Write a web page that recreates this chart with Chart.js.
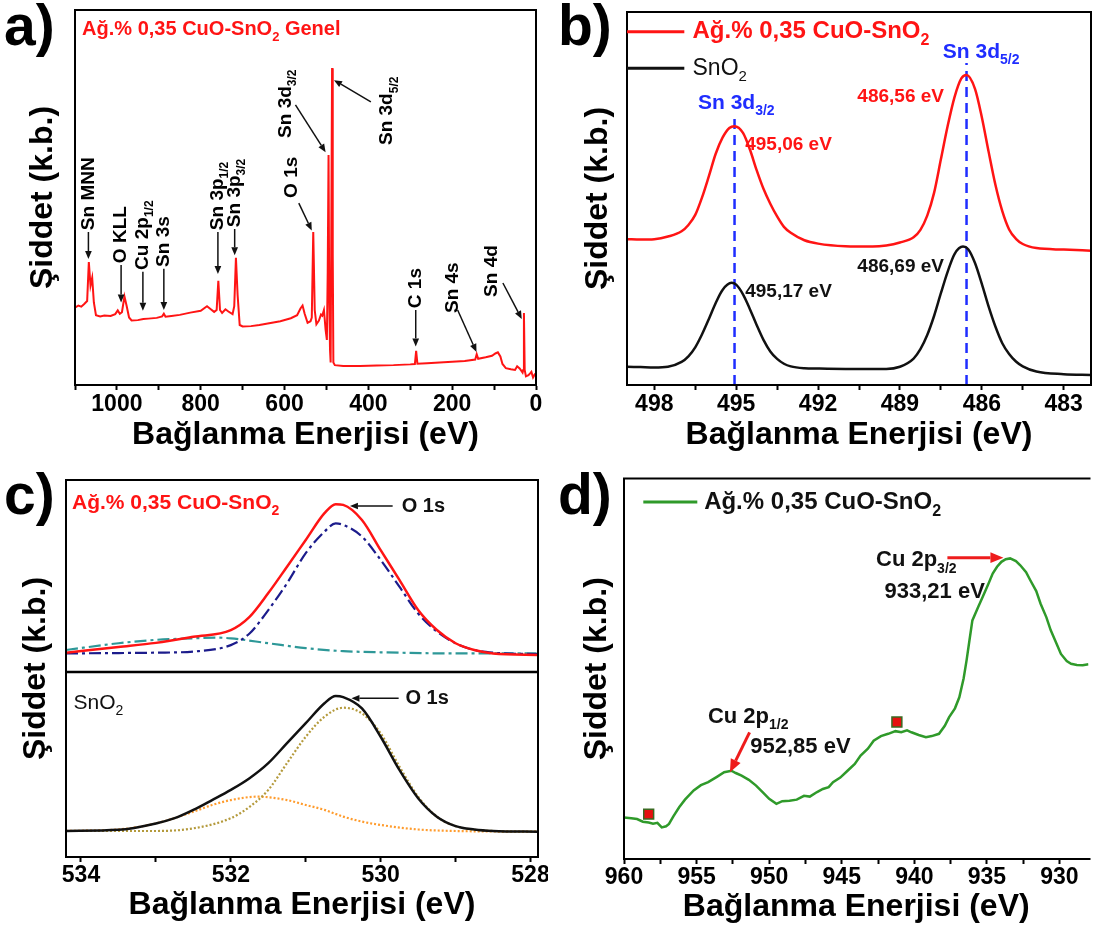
<!DOCTYPE html>
<html>
<head>
<meta charset="utf-8">
<script src="https://cdn.jsdelivr.net/npm/chart.js@4.4.1/dist/chart.umd.min.js"></script>
<style>
  body { margin: 0; background: #fff; width: 1097px; height: 943px; position: relative; overflow: hidden; }
  canvas { position: absolute; }
  .tag { position: absolute; font: bold 57px "Liberation Sans", Arial, sans-serif; line-height: 1; color: #000; }
</style>
</head>
<body>
<canvas id="chA" width="548" height="465" style="left:0;top:0"></canvas>
<canvas id="chB" width="547" height="465" style="left:550px;top:0"></canvas>
<canvas id="chC" width="548" height="473" style="left:0;top:470px"></canvas>
<canvas id="chD" width="547" height="473" style="left:550px;top:470px"></canvas>
<div class="tag" style="left:4px;top:-3px">a)</div>
<div class="tag" style="left:558px;top:-3px">b)</div>
<div class="tag" style="left:4px;top:466px">c)</div>
<div class="tag" style="left:558px;top:466px">d)</div>

<script>
/* ============================================================
   XPS panels a-d, [eV, intensity]
============================================================ */

const FONT = '"Liberation Sans", Arial, Helvetica, sans-serif';

// ---- a) survey spectrum
const SURVEY = [
  [1100, 20.6], [1092, 21.2], [1085, 20.9], [1078, 21.6], [1071, 22.4], [1067, 32.8], [1063, 26.5],
  [1059, 28.6], [1055, 22.0], [1050, 18.6], [1040, 18.3], [1030, 18.5], [1015, 18.4], [1004, 18.9],
  [998, 19.9], [993, 19.0], [988, 19.4], [982, 23.6], [977, 21.2], [971, 18.0], [965, 17.2],
  [950, 17.3], [937, 17.6], [925, 17.7], [905, 17.9], [892, 18.3], [888, 19.0], [884, 18.2],
  [870, 18.4], [850, 18.7], [825, 19.3], [800, 19.8], [785, 21.0], [776, 20.2], [768, 19.5],
  [762, 20.0], [758, 27.8], [754, 20.0], [749, 19.2], [741, 20.2], [734, 19.6], [724, 18.9],
  [720, 21.0], [716, 33.9], [712, 24.0], [707, 16.0], [700, 15.6], [680, 15.7], [660, 16.0],
  [640, 16.4], [610, 17.0], [585, 17.8], [570, 18.6], [562, 20.4], [557, 21.2], [552, 19.0],
  [545, 16.6], [538, 17.0], [535, 18.0], [531.5, 40.8], [528, 20.0], [524, 16.2], [518, 17.2],
  [513, 18.8], [510, 18.5], [506, 20.0], [502, 14.7], [499, 12.0], [497, 30.0], [495, 61.3],
  [493.5, 25.0], [491.5, 9.5], [490, 6.0], [488.5, 40.0], [486.6, 84.5], [485, 35.0], [483.5, 6.0],
  [480, 5.3], [460, 5.1], [420, 5.1], [380, 5.2], [340, 5.3], [300, 5.5], [289, 5.6], [286, 9.1],
  [283, 5.7], [260, 5.8], [230, 6.0], [200, 6.2], [170, 6.4], [145, 6.8], [141.5, 8.2], [138, 7.0],
  [120, 7.4], [105, 7.8], [97, 8.4], [91, 8.7], [85, 7.6], [80, 5.6], [72, 4.5], [60, 4.2],
  [50, 4.0], [45, 5.0], [39, 4.4], [32, 3.3], [30.5, 4.0], [28.8, 19.2], [27, 4.0], [24, 2.3],
  [18, 2.6], [14, 3.1], [11, 3.5], [7, 2.0], [3, 2.8], [0, 2.6]
];
const A_MAJOR = [0, 200, 400, 600, 800, 1000];
const A_MINOR = [100, 300, 500, 700, 900, 1100];
// label, energy, intensity at the foot of the upright text
const A_PEAKS = [
  ['Sn MNN', 1068, 41.3], ['O KLL', 990, 32.5], ['Cu 2p_{1/2}', 938, 30.7], ['Sn 3s', 888, 31.5],
  ['Sn 3p_{1/2}', 759, 41.3], ['Sn 3p_{3/2}', 719, 42.1], ['O 1s', 583, 49.9],
  ['Sn 3d_{3/2}', 598, 65.9], ['Sn 3d_{5/2}', 355, 64.0], ['C 1s', 287, 20.5],
  ['Sn 4s', 199, 19.2], ['Sn 4d', 106, 23.5]
];
const A_ARROWS = [
  [1068, 40.8, 1068, 33.6], [990, 32.0, 990, 22.0], [938, 30.2, 938, 19.8], [888, 31.0, 888, 20.0],
  [759, 40.8, 759, 29.6], [719, 41.6, 719, 34.6], [566, 48.5, 535, 41.2], [574, 74.7, 502, 62.1],
  [394, 75.5, 482, 81.3], [287, 20.0, 287, 10.3], [187, 20.0, 142, 8.8], [79, 27.2, 34, 17.6]
];

// ---- b) Sn 3d
const B_SAMPLE = [
  [499.0, 39.1], [498.5, 39.0], [498.0, 39.1], [497.5, 39.8], [497.0, 41.2], [496.75, 42.9],
  [496.5, 45.6], [496.25, 50.3], [496.0, 56.0], [495.75, 62.0], [495.5, 66.3], [495.25, 68.9],
  [495.06, 69.4], [494.75, 67.6], [494.5, 63.2], [494.25, 57.6], [494.0, 52.6], [493.75, 48.6],
  [493.5, 45.2], [493.25, 42.4], [493.0, 40.8], [492.5, 38.8], [492.0, 37.9], [491.0, 37.2],
  [490.0, 37.1], [489.5, 37.4], [489.0, 38.2], [488.5, 39.6], [488.25, 41.6], [488.0, 45.4],
  [487.75, 51.5], [487.5, 60.5], [487.25, 69.5], [487.0, 77.2], [486.75, 82.2], [486.56, 83.1],
  [486.25, 79.4], [486.0, 71.8], [485.75, 62.5], [485.5, 53.6], [485.25, 46.6], [485.0, 41.7],
  [484.75, 39.2], [484.5, 37.8], [484.0, 36.7], [483.0, 36.3], [482.0, 36.0]
];
const B_SNO2 = [
  [499.0, 4.9], [498.5, 4.8], [498.0, 4.7], [497.5, 4.9], [497.0, 6.2], [496.75, 7.7],
  [496.5, 10.1], [496.25, 13.6], [496.0, 17.7], [495.75, 22.0], [495.5, 25.5], [495.17, 27.4],
  [495.0, 26.9], [494.75, 24.3], [494.5, 20.4], [494.25, 16.1], [494.0, 12.1], [493.75, 9.0],
  [493.5, 7.0], [493.25, 5.7], [493.0, 5.0], [492.5, 4.5], [492.0, 4.4], [491.0, 4.3],
  [490.0, 4.3], [489.5, 4.3], [489.0, 4.9], [488.5, 7.1], [488.25, 9.6], [488.0, 13.4],
  [487.75, 18.5], [487.5, 24.6], [487.25, 30.4], [487.0, 35.1], [486.69, 37.1], [486.5, 36.4],
  [486.25, 32.7], [486.0, 27.1], [485.75, 21.0], [485.5, 15.6], [485.25, 11.2], [485.0, 8.3],
  [484.75, 6.3], [484.5, 5.0], [484.0, 3.6], [483.0, 2.9], [482.0, 2.7]
];
const B_CENTRES = [[495.06, 72.4], [486.56, 86.3]];   // dashed markers: energy, top
const B_MAJOR = [483, 486, 489, 492, 495, 498];
const B_MINOR = [484.5, 487.5, 490.5, 493.5, 496.5];

// ---- c) O 1s, fitted components (upper block: CuO-SnO2, lower block: SnO2)
const C_SAMPLE = [
  [534.2, 54.2], [533.5, 55.7], [533.0, 56.8], [532.5, 58.4], [532.0, 60.2], [531.75, 63.7],
  [531.5, 70.0], [531.25, 77.0], [531.0, 84.1], [530.75, 91.2], [530.6, 93.6], [530.5, 93.4],
  [530.25, 89.4], [530.0, 81.4], [529.75, 73.5], [529.5, 65.5], [529.25, 60.2], [529.0, 56.7],
  [528.75, 54.9], [528.5, 54.0], [527.88, 53.6]
];
const C_SAMPLE_LATTICE = [
  [534.2, 54.0], [533.5, 54.1], [533.0, 54.2], [532.5, 54.5], [532.0, 56.2], [531.75, 59.3],
  [531.5, 65.5], [531.25, 72.6], [531.0, 80.6], [530.75, 86.3], [530.6, 88.5], [530.5, 88.1],
  [530.25, 85.0], [530.0, 78.8], [529.75, 71.7], [529.5, 64.6], [529.25, 59.8], [529.0, 56.7],
  [528.75, 54.9], [528.5, 54.2], [527.88, 53.8]
];
const C_SAMPLE_OH = [
  [534.2, 54.9], [533.5, 56.7], [533.0, 57.6], [532.5, 58.0], [532.2, 58.2], [532.0, 58.0],
  [531.5, 56.7], [531.0, 55.4], [530.5, 54.6], [530.0, 54.3], [529.0, 54.0], [527.88, 54.0]
];
const C_SNO2 = [
  [534.2, 6.9], [533.5, 7.2], [533.0, 8.9], [532.75, 10.3], [532.5, 12.5], [532.25, 15.1],
  [532.0, 17.8], [531.75, 20.9], [531.5, 24.9], [531.25, 30.2], [531.0, 35.5], [530.75, 40.8],
  [530.6, 42.7], [530.5, 42.4], [530.25, 39.4], [530.0, 31.9], [529.75, 23.1], [529.5, 15.6],
  [529.25, 10.7], [529.0, 8.2], [528.75, 7.3], [528.5, 6.9], [527.88, 6.7]
];
const C_SNO2_LATTICE = [
  [534.2, 6.9], [533.0, 6.9], [532.5, 7.6], [532.0, 10.3], [531.75, 13.3], [531.5, 17.8],
  [531.25, 24.9], [531.0, 31.9], [530.75, 37.2], [530.5, 39.6], [530.25, 38.1], [530.0, 32.8],
  [529.75, 24.0], [529.5, 16.0], [529.25, 10.7], [529.0, 8.2], [528.5, 6.9], [527.88, 6.7]
];
const C_SNO2_OH = [
  [534.2, 6.9], [533.5, 7.3], [533.0, 8.9], [532.5, 12.0], [532.25, 13.8], [532.0, 15.1],
  [531.65, 16.0], [531.25, 15.1], [531.0, 13.8], [530.75, 12.5], [530.5, 10.7], [530.25, 9.4],
  [530.0, 8.5], [529.5, 7.3], [529.0, 6.9], [527.88, 6.7]
];
const C_SPLIT = 49.1;
const C_MAJOR = [528, 530, 532, 534];
const C_MINOR = [529, 531, 533];

// ---- d) Cu 2p
const D_CU2P = [
  [960, 10.9], [959.5, 10.7], [959.1, 10.5], [958.7, 9.8], [958.3, 9.6], [958.0, 9.3],
  [957.7, 9.5], [957.4, 8.3], [957.1, 8.6], [956.9, 9.2], [956.6, 11.2], [956.2, 13.6],
  [955.8, 15.6], [955.2, 18.0], [954.7, 19.4], [954.2, 20.2], [953.6, 21.6], [953.1, 22.8],
  [952.6, 23.2], [952.3, 22.6], [951.9, 21.9], [951.4, 20.8], [950.9, 19.3], [950.4, 17.4],
  [950.0, 15.8], [949.5, 14.5], [949.1, 15.2], [948.6, 15.3], [948.1, 15.6], [947.6, 16.6],
  [947.2, 16.4], [946.7, 17.6], [946.3, 18.4], [945.9, 18.9], [945.6, 20.2], [945.1, 21.4],
  [944.6, 23.2], [944.1, 25.0], [943.7, 27.2], [943.2, 29.0], [942.8, 31.1], [942.3, 32.3],
  [941.8, 32.9], [941.3, 33.6], [940.9, 33.3], [940.5, 33.8], [940.2, 33.3], [939.7, 32.6],
  [939.2, 32.0], [938.8, 32.3], [938.3, 32.9], [937.9, 35.0], [937.6, 37.3], [937.2, 39.6],
  [936.9, 42.5], [936.6, 47.5], [936.4, 52.2], [936.2, 57.5], [936.0, 62.7], [935.6, 66.2],
  [935.3, 68.8], [934.9, 72.3], [934.6, 75.0], [934.3, 76.8], [934.0, 78.1], [933.7, 78.8],
  [933.4, 79.0], [933.0, 78.3], [932.7, 77.2], [932.3, 75.4], [932.0, 73.2], [931.6, 70.4],
  [931.3, 67.1], [930.9, 63.5], [930.6, 60.1], [930.2, 56.6], [929.9, 53.9], [929.5, 52.0],
  [929.2, 51.3], [928.8, 51.0], [928.4, 50.9], [928.0, 51.2]
];
const D_SATELLITES = [[958.3, 11.8], [941.2, 36.0]];
const D_MAJOR = [930, 935, 940, 945, 950, 955, 960];
const D_MINOR = [932.5, 937.5, 942.5, 947.5, 952.5, 957.5];

/* ---------------- helpers ---------------- */

function drawRich(ctx, l, X, Y) {
  const w = l.weight || 'bold';
  const segs = l.text.split(/_\{|\}/);
  const fN = `${w} ${l.size}px ${FONT}`;
  const fS = `${w} ${Math.round(l.size * 0.65)}px ${FONT}`;
  let total = 0;
  segs.forEach((s, i) => { ctx.font = i % 2 ? fS : fN; total += ctx.measureText(s).width; });
  ctx.save();
  ctx.translate(X, Y);
  if (l.rot) ctx.rotate(-Math.PI / 2);
  ctx.fillStyle = l.color || '#000';
  ctx.textBaseline = 'middle';
  ctx.textAlign = 'left';
  let cx = l.align === 'center' ? -total / 2 : 0;
  segs.forEach((s, i) => {
    ctx.font = i % 2 ? fS : fN;
    ctx.fillText(s, cx, i % 2 ? l.size * 0.38 : 0);
    cx += ctx.measureText(s).width;
  });
  ctx.restore();
}

function drawArrow(ctx, x1, y1, x2, y2, color, width, head) {
  const ang = Math.atan2(y2 - y1, x2 - x1);
  const bx = x2 - head * Math.cos(ang), by = y2 - head * Math.sin(ang);
  const hw = head * 0.42;
  ctx.strokeStyle = color; ctx.fillStyle = color; ctx.lineWidth = width;
  ctx.beginPath(); ctx.moveTo(x1, y1); ctx.lineTo(bx, by); ctx.stroke();
  ctx.beginPath();
  ctx.moveTo(x2, y2);
  ctx.lineTo(bx + hw * Math.sin(ang), by - hw * Math.cos(ang));
  ctx.lineTo(bx - hw * Math.sin(ang), by + hw * Math.cos(ang));
  ctx.closePath(); ctx.fill();
}

// frame, legend keys, arrows and labels, all placed through the chart's scales
function makeNotes(cfg) {
  return {
    id: 'notes',
    afterDatasetsDraw(chart) {
      const { ctx, chartArea: a, scales: { x, y } } = chart;
      const px = v => x.getPixelForValue(v), py = v => y.getPixelForValue(v);
      ctx.save();
      ctx.strokeStyle = '#000'; ctx.lineWidth = 2;
      ctx.beginPath();
      if (cfg.openRight) {
        ctx.moveTo(a.right + 2, a.top); ctx.lineTo(a.left, a.top);
        ctx.lineTo(a.left, a.bottom); ctx.lineTo(a.right + 2, a.bottom);
      } else {
        ctx.rect(a.left, a.top, a.right - a.left, a.bottom - a.top);
      }
      ctx.stroke();
      if (cfg.split != null) {
        ctx.beginPath();
        ctx.moveTo(a.left, py(cfg.split)); ctx.lineTo(a.right, py(cfg.split));
        ctx.lineWidth = 2.5; ctx.stroke();
      }
      (cfg.keys || []).forEach(k => {
        ctx.strokeStyle = k.color; ctx.lineWidth = k.width;
        ctx.beginPath(); ctx.moveTo(px(k.x1), py(k.y)); ctx.lineTo(px(k.x2), py(k.y)); ctx.stroke();
      });
      (cfg.arrows || []).forEach(r =>
        drawArrow(ctx, px(r.x1), py(r.y1), px(r.x2), py(r.y2), r.color || '#111', r.width || 1.5, r.head || 8));
      (cfg.labels || []).forEach(l => drawRich(ctx, l, px(l.x), py(l.y)));
      ctx.restore();
    }
  };
}

function energyAxis(min, max, major, minor, tickPad, titlePad) {
  return {
    type: 'linear', min, max, reverse: true,
    afterBuildTicks: s => { s.ticks = major.concat(minor).sort((p, q) => p - q).map(v => ({ value: v })); },
    ticks: {
      autoSkip: false, maxRotation: 0, padding: tickPad, color: '#000',
      font: { family: FONT, size: 23, weight: 'bold', lineHeight: 1 },
      callback: v => major.includes(v) ? String(v) : ''
    },
    grid: { display: true, drawOnChartArea: false, drawTicks: true, tickLength: 5, tickWidth: 2, tickColor: '#000' },
    border: { display: true, color: '#000', width: 2 },
    title: {
      display: true, text: 'Bağlanma Enerjisi (eV)', color: '#000',
      font: { family: FONT, size: 32, weight: 'bold', lineHeight: 1 },
      padding: { top: titlePad[0], bottom: titlePad[1] }
    }
  };
}

function intensityAxis(padTop, padBottom) {
  return {
    type: 'linear', min: 0, max: 100,
    ticks: { display: false },
    grid: { display: false, drawTicks: false },
    border: { display: true, color: '#000', width: 2 },
    title: {
      display: true, text: 'Şiddet (k.b.)', color: '#000',
      font: { family: FONT, size: 32, weight: 'bold', lineHeight: 1 },
      padding: { top: padTop, bottom: padBottom }
    }
  };
}

const series = (pts, color, width, extra) => Object.assign({
  data: pts.map(([x, y]) => ({ x, y })),
  borderColor: color, borderWidth: width, pointRadius: 0, fill: false, tension: 0
}, extra || {});
const smooth = { cubicInterpolationMode: 'monotone' };

function build(id, datasets, padding, scales, notes) {
  return new Chart(document.getElementById(id), {
    type: 'line',
    data: { datasets },
    options: {
      responsive: false, animation: false, events: [],
      layout: { padding },
      plugins: { legend: { display: false }, tooltip: { enabled: false } },
      scales
    },
    plugins: [makeNotes(notes)]
  });
}

const RED = '#ff1414', INK = '#111111', BLUE = '#1f2dff';

/* ---------------- a) ---------------- */
build('chA',
  [series(SURVEY, RED, 2)],
  { left: 0, top: 10, right: 12, bottom: 0 },
  { x: energyAxis(0, 1100, A_MAJOR, A_MINOR, 3, [0, 14]), y: intensityAxis(27, 16) },
  {
    labels: [{ x: 1083, y: 94.7, text: 'Ağ.% 0,35 CuO-SnO_{2} Genel', size: 20, color: RED }]
      .concat(A_PEAKS.map(([t, e, i]) => ({ x: e, y: i, text: t, size: 19, rot: true }))),
    arrows: A_ARROWS.map(([x1, y1, x2, y2]) => ({ x1, y1, x2, y2 }))
  });

/* ---------------- b) ---------------- */
build('chB',
  [
    series(B_SAMPLE, RED, 2.5, smooth),
    series(B_SNO2, INK, 2.5, smooth)
  ].concat(B_CENTRES.map(([e, top]) =>
    series([[e, 0], [e, top]], BLUE, 2.5, { borderDash: [10, 6] }))),
  { left: 0, top: 12, right: 6, bottom: 0 },
  { x: energyAxis(482, 499, B_MAJOR, B_MINOR, 3, [0, 14]), y: intensityAxis(32, 13) },
  {
    keys: [
      { x1: 499.0, x2: 496.9, y: 94.7, color: RED, width: 3 },
      { x1: 499.0, x2: 496.9, y: 84.9, color: INK, width: 3 }
    ],
    labels: [
      { x: 496.6, y: 94.7, text: 'Ağ.% 0,35 CuO-SnO_{2}', size: 24, color: RED },
      { x: 496.6, y: 84.9, text: 'SnO_{2}', size: 23, weight: 'normal', color: INK },
      { x: 496.4, y: 75.6, text: 'Sn 3d_{3/2}', size: 21, color: BLUE },
      { x: 487.43, y: 89.3, text: 'Sn 3d_{5/2}', size: 21, color: BLUE },
      { x: 494.67, y: 64.3, text: '495,06 eV', size: 19, color: RED },
      { x: 490.56, y: 77.2, text: '486,56 eV', size: 19, color: RED },
      { x: 490.56, y: 31.6, text: '486,69 eV', size: 19, color: INK },
      { x: 494.67, y: 24.9, text: '495,17 eV', size: 19, color: INK }
    ]
  });

/* ---------------- c) ---------------- */
build('chC',
  [
    series(C_SAMPLE, RED, 2.5, smooth),
    series(C_SAMPLE_LATTICE, '#1c1c8c', 2.2, Object.assign({ borderDash: [12, 4, 3, 4] }, smooth)),
    series(C_SAMPLE_OH, '#2e9898', 2.2, Object.assign({ borderDash: [12, 4, 3, 4] }, smooth)),
    series(C_SNO2, INK, 2.5, smooth),
    series(C_SNO2_LATTICE, '#b49a3c', 2.2, Object.assign({ borderDash: [2, 2] }, smooth)),
    series(C_SNO2_OH, '#ff9c2e', 2.2, Object.assign({ borderDash: [2, 2] }, smooth))
  ],
  { left: 0, top: 10, right: 10, bottom: 0 },
  { x: energyAxis(527.9, 534.2, C_MAJOR, C_MINOR, 2, [0, 22]), y: intensityAxis(20, 14) },
  {
    split: C_SPLIT,
    arrows: [
      { x1: 529.84, y1: 93.1, x2: 530.41, y2: 93.1 },
      { x1: 529.76, y1: 42.1, x2: 530.39, y2: 42.1 }
    ],
    labels: [
      { x: 534.12, y: 93.8, text: 'Ağ.% 0,35 CuO-SnO_{2}', size: 21, color: RED },
      { x: 529.72, y: 93.1, text: 'O 1s', size: 20, color: INK },
      { x: 534.1, y: 40.8, text: 'SnO_{2}', size: 21, weight: 'normal', color: INK },
      { x: 529.67, y: 42.1, text: 'O 1s', size: 20, color: INK }
    ]
  });

/* ---------------- d) ---------------- */
build('chD',
  [
    series(D_SATELLITES, '#e01010', 1, {
      showLine: false, pointRadius: 7, pointStyle: 'rect',
      pointBackgroundColor: '#e61010', pointBorderColor: '#3a6a22', pointBorderWidth: 1.5
    }),
    series(D_CU2P, '#2f9a2a', 2.5)
  ],
  { left: 0, top: 8, right: 0, bottom: 0 },
  { x: energyAxis(928, 960, D_MAJOR, D_MINOR, 2, [0, 20]), y: intensityAxis(31, 11) },
  {
    openRight: true,
    keys: [{ x1: 958.67, x2: 954.95, y: 93.8, color: '#2f9a2a', width: 3 }],
    arrows: [
      { x1: 937.72, y1: 79.2, x2: 933.86, y2: 79.2, color: '#ee1c1c', width: 3, head: 13 },
      { x1: 951.35, y1: 33.3, x2: 952.7, y2: 22.8, color: '#ee1c1c', width: 3, head: 13 }
    ],
    labels: [
      { x: 954.48, y: 93.8, text: 'Ağ.% 0,35 CuO-SnO_{2}', size: 24, color: INK },
      { x: 942.64, y: 78.5, text: 'Cu 2p_{3/2}', size: 22, color: INK },
      { x: 942.05, y: 70.2, text: '933,21 eV', size: 22, color: INK },
      { x: 954.22, y: 37.3, text: 'Cu 2p_{1/2}', size: 22, color: INK },
      { x: 951.3, y: 29.4, text: '952,85 eV', size: 22, color: INK }
    ]
  });
</script>
</body>
</html>
